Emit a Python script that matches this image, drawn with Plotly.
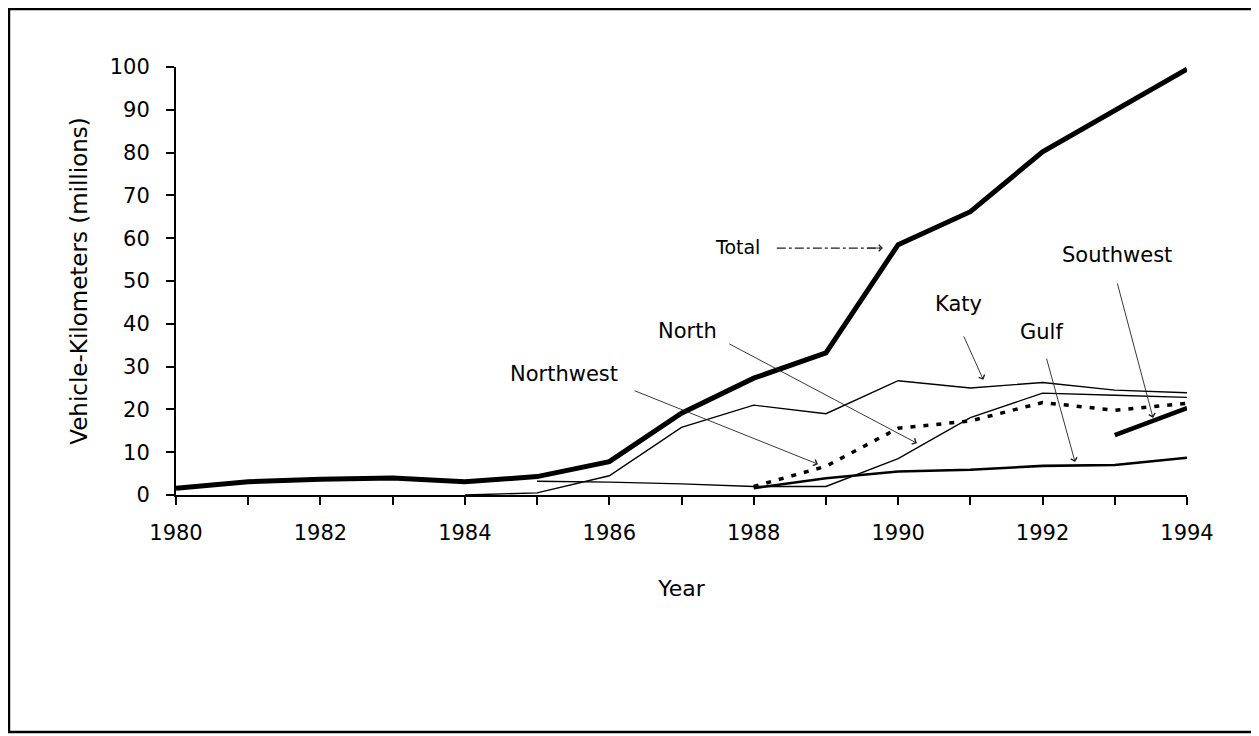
import plotly.graph_objects as go

years = list(range(1980, 1995))

total = [1.6, 3.1, 3.7, 4.0, 3.1, 4.3, 7.8, 19.1, 27.3, 33.2, 58.5, 66.2, 80.2, 90.0, 99.5]
katy = [None, None, None, None, 0.0, 0.5, 4.5, 15.8, 21.0, 19.0, 26.7, 25.0, 26.3, 24.5, 23.9]
north = [None, None, None, None, None, 3.2, 3.0, 2.6, 2.0, 2.0, 8.5, 18.1, 23.8, 23.3, 22.8]
northwest = [None] * 8 + [2.0, 6.7, 15.6, 17.3, 21.6, 19.8, 21.4]
gulf = [None] * 8 + [1.6, 3.9, 5.5, 5.9, 6.8, 7.0, 8.7]
southwest = [None] * 13 + [14.0, 20.3]

x_ticks = list(range(1980, 1995, 2))
y_ticks = list(range(0, 101, 10))

FONT = "DejaVu Sans"

fig = go.Figure()

def add(y, width, dash="solid"):
    fig.add_trace(go.Scatter(x=years, y=y, mode="lines",
                             line=dict(color="black", width=width, dash=dash),
                             connectgaps=False, showlegend=False, hoverinfo="skip"))

add(katy, 1.4)
add(north, 1.4)
add(gulf, 2.6)
add(northwest, 3.5, "5px,8px")
add(southwest, 4.5)
add(total, 5)

# labels with arrows: (text, text_x, text_y, tail_x, tail_y, tip_x, tip_y)
labels = [
    ("Southwest", 1993.03, 56.1, 1993.03, 49.8, 1993.53, 18.0),
    ("Katy", 1990.83, 44.6, 1990.90, 37.4, 1991.18, 26.9),
    ("Gulf", 1991.99, 38.1, 1992.05, 32.2, 1992.45, 7.7),
    ("North", 1987.08, 38.3, 1987.64, 35.5, 1990.26, 12.1),
    ("Northwest", 1985.37, 28.3, 1986.33, 24.5, 1988.89, 7.2),
]
for text, tx, ty, ax, ay, hx, hy in labels:
    fig.add_annotation(x=tx, y=ty, text=text, showarrow=False,
                       font=dict(family=FONT, size=21, color="black"))
    fig.add_annotation(x=hx, y=hy, ax=ax, ay=ay, xref="x", yref="y",
                       axref="x", ayref="y", text="", showarrow=True,
                       arrowhead=4, arrowsize=1.4, arrowwidth=0.9,
                       arrowcolor="#222222")

# Total label with dash-dot arrow
fig.add_annotation(x=1987.77, y=58.0, text="Total", showarrow=False,
                   font=dict(family=FONT, size=19, color="black"))
fig.add_shape(type="line", xref="x", yref="y", x0=1988.32, y0=57.7,
              x1=1989.75, y1=57.7, line=dict(color="#222222", width=1.2, dash="dashdot"))
fig.add_annotation(x=1989.79, y=57.7, ax=1989.55, ay=57.7, xref="x", yref="y",
                   axref="x", ayref="y", text="", showarrow=True,
                   arrowhead=4, arrowsize=1.4, arrowwidth=0.9, arrowcolor="#222222")

# outer frame
fig.add_shape(type="rect", xref="paper", yref="paper",
              x0=-0.1652, x1=1.0682, y0=-0.5537, y1=1.1355,
              line=dict(color="black", width=2.5), fillcolor="rgba(0,0,0,0)")

fig.update_layout(
    width=1251, height=728,
    margin=dict(l=168, r=72, t=59, b=241),
    paper_bgcolor="white", plot_bgcolor="white",
    font=dict(family=FONT, color="black"),
    showlegend=False,
)
fig.update_xaxes(
    range=[1980, 1994], tickvals=x_ticks, ticktext=[str(v) for v in x_ticks],
    showline=True, linecolor="black", linewidth=2, showgrid=False, zeroline=False,
    ticks="outside", ticklen=8, tickwidth=1.5, tickcolor="black",
    minor=dict(dtick=1, ticks="outside", ticklen=8, tickwidth=1.5, tickcolor="black", showgrid=False),
    tickfont=dict(family=FONT, size=21), ticklabelstandoff=10,
    title=dict(text="Year", font=dict(family=FONT, size=22), standoff=36),
)
fig.update_yaxes(
    range=[0, 100], tickvals=y_ticks,
    showline=True, linecolor="black", linewidth=2, showgrid=False, zeroline=False,
    ticks="outside", ticklen=8, tickwidth=1.5, tickcolor="black",
    tickfont=dict(family=FONT, size=21), ticklabelstandoff=12,
    title=dict(text="Vehicle-Kilometers (millions)", font=dict(family=FONT, size=23), standoff=16),
)

fig.write_html("out.html")
